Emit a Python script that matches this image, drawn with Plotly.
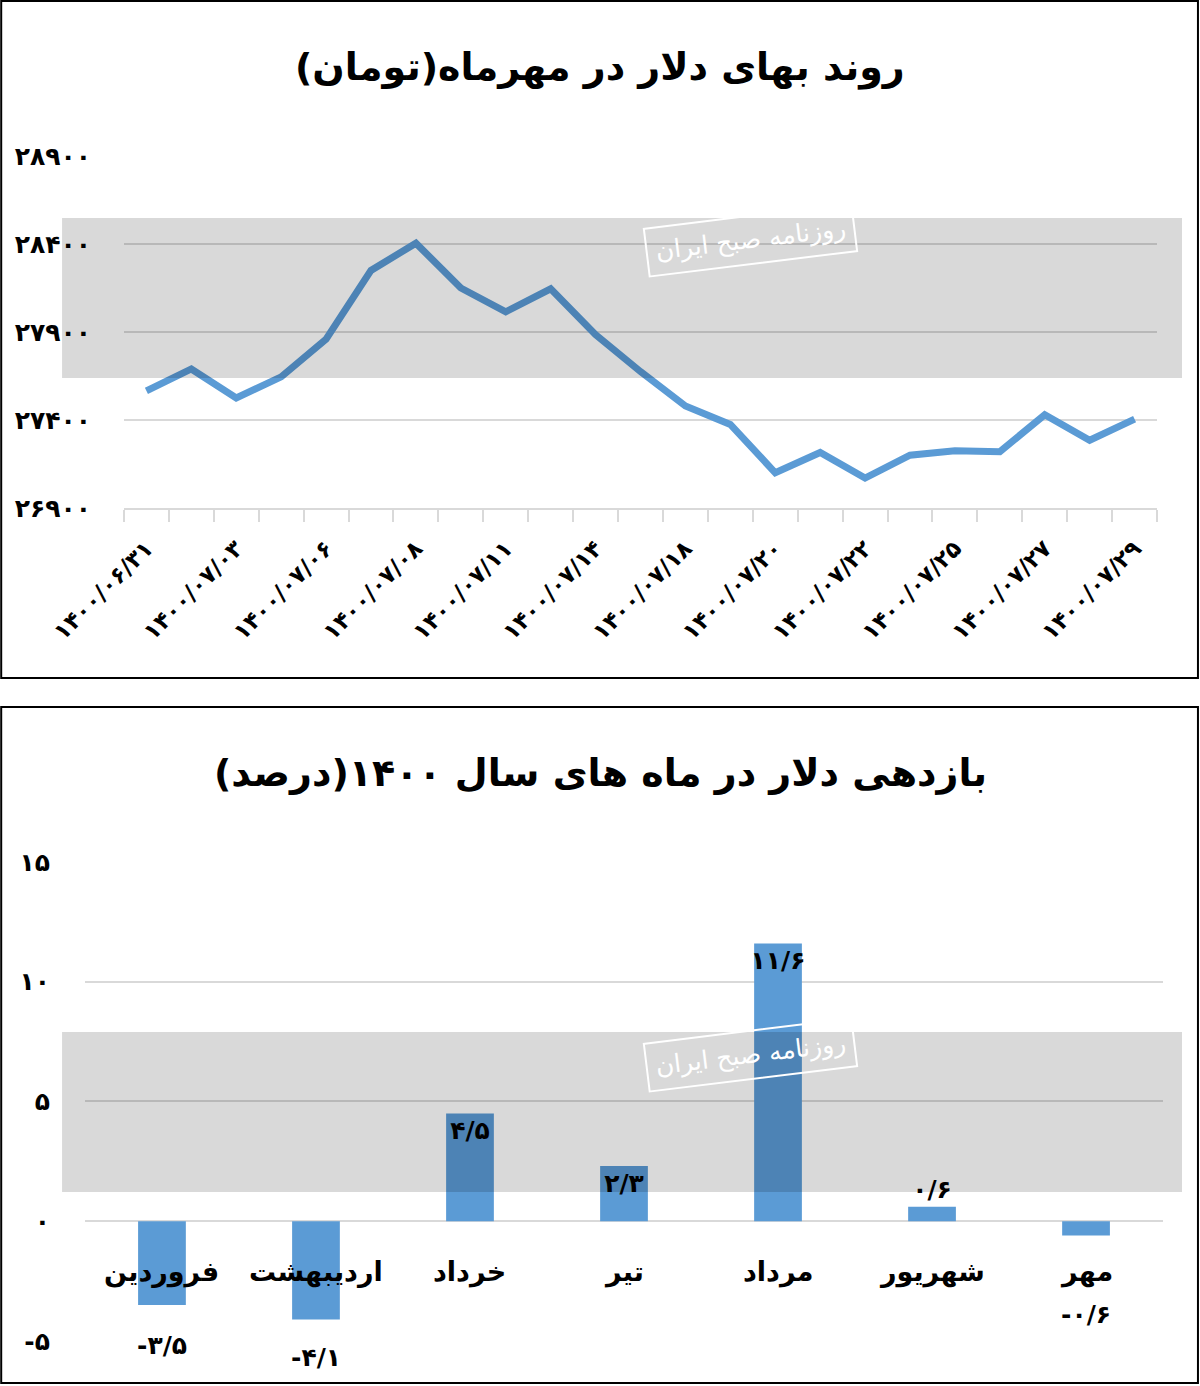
import plotly.graph_objects as go

# line chart: dollar price in Mehr 1400 (toman)
dates = ["۱۴۰۰/۰۶/۳۱", "۱۴۰۰/۰۷/۰۱", "۱۴۰۰/۰۷/۰۳", "۱۴۰۰/۰۷/۰۴", "۱۴۰۰/۰۷/۰۶",
         "۱۴۰۰/۰۷/۰۷", "۱۴۰۰/۰۷/۰۸", "۱۴۰۰/۰۷/۱۰", "۱۴۰۰/۰۷/۱۱", "۱۴۰۰/۰۷/۱۲",
         "۱۴۰۰/۰۷/۱۴", "۱۴۰۰/۰۷/۱۷", "۱۴۰۰/۰۷/۱۸", "۱۴۰۰/۰۷/۱۹", "۱۴۰۰/۰۷/۲۰",
         "۱۴۰۰/۰۷/۲۱", "۱۴۰۰/۰۷/۲۲", "۱۴۰۰/۰۷/۲۴", "۱۴۰۰/۰۷/۲۵", "۱۴۰۰/۰۷/۲۶",
         "۱۴۰۰/۰۷/۲۷", "۱۴۰۰/۰۷/۲۸", "۱۴۰۰/۰۷/۲۹"]
price = [27565, 27690, 27525, 27645, 27860, 28250, 28405, 28150, 28015, 28145,
         27885, 27675, 27480, 27375, 27100, 27215, 27070, 27200, 27225, 27220,
         27430, 27285, 27405]
price_ticks = [26900, 27400, 27900, 28400, 28900]
price_ticktext = ["۲۶۹۰۰", "۲۷۴۰۰", "۲۷۹۰۰", "۲۸۴۰۰", "۲۸۹۰۰"]

# bar chart: monthly return of dollar in 1400 (percent)
months = ["فروردین", "اردیبهشت", "خرداد", "تیر", "مرداد", "شهریور", "مهر"]
returns = [-3.5, -4.1, 4.5, 2.3, 11.6, 0.6, -0.6]
return_labels = ["-۳/۵", "-۴/۱", "۴/۵", "۲/۳", "۱۱/۶", "۰/۶", "-۰/۶"]
return_ticks = [-5, 0, 5, 10, 15]
return_ticktext = ["-۵", "۰", "۵", "۱۰", "۱۵"]

FONT = "DejaVu Sans"
BLUE = "#5b9bd5"
GRID = "#d9d9d9"
RLM = "\u200f"

idx = list(range(len(dates)))

fig = go.Figure()
fig.add_trace(go.Scatter(x=idx, y=price, mode="lines",
                         line=dict(color=BLUE, width=7),
                         xaxis="x", yaxis="y", showlegend=False))

pos_text = [t if v > 0 else "" for v, t in zip(returns, return_labels)]
pos_mode = ["outside" if 0 < v < 1 else ("inside" if v > 0 else "none") for v in returns]
fig.add_trace(go.Bar(x=months, y=returns, marker=dict(color=BLUE, line=dict(width=0)),
                     text=pos_text, textposition=pos_mode, insidetextanchor="end",
                     textangle=0, constraintext="none",
                     textfont=dict(family=FONT, size=25, color="black", weight="bold"),
                     xaxis="x2", yaxis="y2", showlegend=False))

# negative value labels below the bars
neg_shift = {-3.5: -24, -4.1: -22, -0.6: -62}
for m, v, t in zip(months, returns, return_labels):
    if v < 0:
        fig.add_annotation(x=m, y=v, xref="x2", yref="y2", text=t, showarrow=False,
                           yanchor="top", yshift=neg_shift[v],
                           font=dict(family=FONT, size=25, color="black", weight="bold"))

# month names under the zero line
for m in months:
    fig.add_annotation(x=m, y=0, xref="x2", yref="y2", text=m, showarrow=False,
                       yanchor="middle", yshift=-51,
                       font=dict(family=FONT, size=27, color="black", weight="bold"))

# titles
fig.add_annotation(x=0.5, y=0.951, xref="paper", yref="paper", showarrow=False,
                   yanchor="middle",
                   text=RLM + "روند بهای دلار در مهرماه(تومان)" + RLM,
                   font=dict(family=FONT, size=38, color="black", weight="bold"))
fig.add_annotation(x=0.5, y=0.4423, xref="paper", yref="paper", showarrow=False,
                   yanchor="middle",
                   text=RLM + "بازدهی دلار در ماه های سال ۱۴۰۰(درصد)" + RLM,
                   font=dict(family=FONT, size=38, color="black", weight="bold"))

# watermark bands and newspaper stamp
for y0, y1, ys in [(0.7273, 0.8427, 0.8268), (0.14, 0.2554, 0.2388)]:
    fig.add_shape(type="rect", xref="paper", yref="paper", x0=0.0517, x1=0.985,
                  y0=y0, y1=y1, fillcolor="rgba(0,0,0,0.15)", line=dict(width=0),
                  layer="above")
    fig.add_annotation(x=0.625, y=ys, xref="paper", yref="paper", showarrow=False,
                       xanchor="center", yanchor="middle",
                       text="روزنامه صبح ایران", textangle=-7,
                       bordercolor="white", borderwidth=2, borderpad=8,
                       font=dict(family=FONT, size=25, color="white"))

# chart frames
fig.add_shape(type="rect", xref="paper", yref="paper", x0=0.001, x1=0.9983,
              y0=0.5108, y1=0.9993, line=dict(color="black", width=2))
fig.add_shape(type="rect", xref="paper", yref="paper", x0=0.001, x1=0.9983,
              y0=0.0022, y1=0.4899, line=dict(color="black", width=2))

tickfont = dict(family=FONT, size=25, color="black", weight="bold")

fig.update_layout(
    width=1200, height=1386,
    margin=dict(l=0, r=0, t=0, b=0, autoexpand=False),
    paper_bgcolor="white", plot_bgcolor="white",
    bargap=0.69,
    xaxis=dict(domain=[0.1033, 0.9642], anchor="y", range=[-0.5, len(dates) - 0.5],
               tickvals=idx[::2], ticktext=dates[::2], tickangle=-45,
               ticks="", ticklabelstandoff=16, showgrid=False, zeroline=False,
               automargin=False,
               showline=True, linecolor=GRID, linewidth=1.5,
               tickfont=dict(family=FONT, size=23, color="black", weight="bold"),
               minor=dict(tick0=-0.5, dtick=1, ticks="outside", ticklen=12,
                          tickcolor=GRID, tickwidth=1.5, showgrid=False)),
    yaxis=dict(domain=[0.6335, 0.8874], anchor="x", range=[26900, 28900],
               tickvals=price_ticks, ticktext=price_ticktext, ticks="",
               ticklabelstandoff=32, showgrid=True, gridcolor=GRID, gridwidth=1.5,
               zeroline=False, showline=False, tickfont=tickfont, automargin=False),
    xaxis2=dict(domain=[0.0708, 0.9692], anchor="y2", range=[-0.5, len(months) - 0.5],
                showticklabels=False, ticks="", showgrid=False, zeroline=False,
                showline=False, automargin=False),
    yaxis2=dict(domain=[0.0325, 0.3781], anchor="x2", range=[-5, 15],
                tickvals=return_ticks, ticktext=return_ticktext, ticks="",
                ticklabelstandoff=34, showgrid=True, gridcolor=GRID, gridwidth=1.5,
                zeroline=True, zerolinecolor=GRID, zerolinewidth=1.5,
                showline=False, tickfont=tickfont, automargin=False),
)

fig.write_html("out.html", config={"displayModeBar": False},
               post_script="document.body.style.margin='0';")
